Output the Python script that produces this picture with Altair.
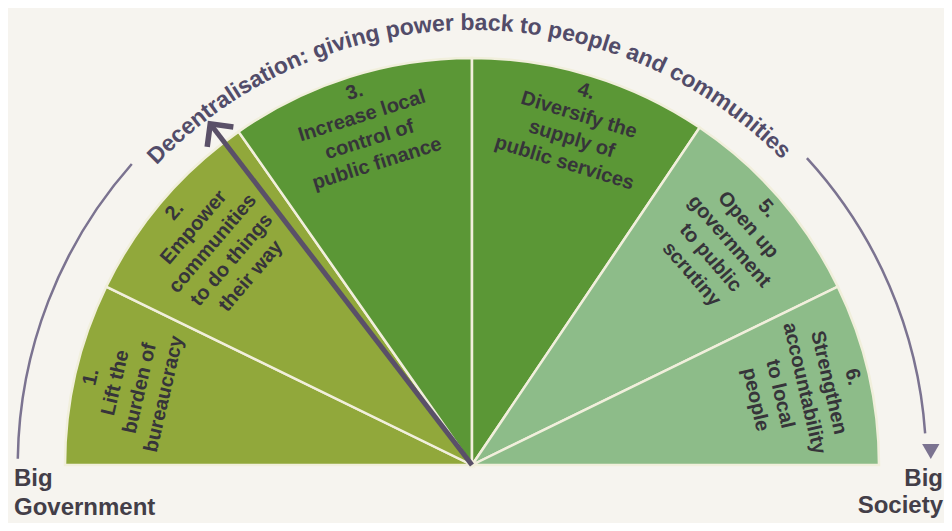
import math
import pandas as pd
import altair as alt

# ---------------- data ----------------
step_labels = [
    "1.\nLift the\nburden of\nbureaucracy",
    "2.\nEmpower\ncommunities\nto do things\ntheir way",
    "3.\nIncrease local\ncontrol of\npublic finance",
    "4.\nDiversify the\nsupply of\npublic services",
    "5.\nOpen up\ngovernment\nto public\nscrutiny",
    "6.\nStrengthen\naccountability\nto local\npeople",
]
step_spans = [26, 29, 35, 34, 30, 26]          # degrees of the half circle
step_groups = ["early", "early", "middle", "middle", "late", "late"]
group_names = ["early", "middle", "late"]
group_colors = ["#91a83b", "#5b9736", "#8dbc89"]
pointer_position = [52.5]                       # degrees from the "Big Government" end
title_text = "Decentralisation: giving power back to people and communities"
end_labels = ["Big\nGovernment", "Big\nSociety"]
guide_from = [0.8, 137.5]                       # outer guide arcs (degrees)
guide_to = [41.5, 176.0]

# ---------------- layout helpers ----------------
FONT = "Liberation Sans, Arial, Helvetica, sans-serif"
# Helvetica/Arial Bold advance widths (per 1000 em)
HB = {' ': 278, ':': 333, 'D': 722, 'a': 556, 'b': 611, 'c': 556, 'd': 611,
      'e': 556, 'g': 611, 'i': 278, 'k': 556, 'l': 278, 'm': 889, 'n': 611,
      'o': 611, 'p': 611, 'r': 389, 's': 556, 't': 333, 'u': 611, 'v': 556,
      'w': 778}
TITLE_FS = 23
TITLE_R = 435
widths = [HB.get(c, 556) * TITLE_FS / 1000 for c in title_text]
span_deg = math.degrees(sum(widths) / TITLE_R)
start_deg = 89.5 - span_deg / 2
rows = []
acc = 0.0
for ch, w in zip(title_text, widths):
    if ch != " ":
        rows.append({"ch": ch, "phi": start_deg + math.degrees((acc + w / 2) / TITLE_R)})
    acc += w
title_df = pd.DataFrame(rows)

wedge_df = pd.DataFrame({"idx": list(range(len(step_spans))), "span": step_spans,
                         "group": step_groups, "label": step_labels})
guide_df = pd.DataFrame({"a0": guide_from, "a1": guide_to})
tip_df = pd.DataFrame({"phi": [guide_to[1]]})
ptr_df = pd.DataFrame({"phi": pointer_position})
ends_df = pd.DataFrame({"t": end_labels})

# ---------------- scales ----------------
xs = alt.Scale(domain=[-464, 472], nice=False, zero=False)
ys = alt.Scale(domain=[-58, 457], nice=False, zero=False)
ts = alt.Scale(domain=[0, 180], range=[-math.pi / 2, math.pi / 2])
cx = alt.X("ox:Q", scale=xs, axis=None)
cy = alt.Y("oy:Q", scale=ys, axis=None)

ARC_COL = "#7b7390"
PTR_COL = "#5a5068"

base = alt.Chart(wedge_df).transform_window(
    end="sum(span)", sort=[alt.SortField("idx")], frame=[None, 0]
).transform_calculate(
    start="datum.end - datum.span",
    mid="datum.end - datum.span / 2",
    rot="(datum.end - datum.span / 2 + 270) % 360",
    ox="0", oy="0",
)

wedges = base.mark_arc(outerRadius=407, innerRadius=0, stroke="#f1efdc", strokeWidth=2.5).encode(
    x=cx, y=cy,
    theta=alt.Theta("start:Q", scale=ts, stack=False),
    theta2="end:Q",
    color=alt.Color("group:N", scale=alt.Scale(domain=group_names, range=group_colors), legend=None),
)

labels = base.mark_text(
    radius=401, align="center", baseline="top", lineBreak="\n", font=FONT,
    fontSize=20, fontWeight="bold", lineHeight=25, color="#36343a",
).encode(
    x=cx, y=cy,
    theta=alt.Theta("mid:Q", scale=ts, stack=False),
    angle=alt.Angle("rot:Q", scale=None),
    text="label:N",
)

guides = alt.Chart(guide_df).transform_calculate(ox="0", oy="0").mark_arc(
    innerRadius=453, outerRadius=455.5, color=ARC_COL
).encode(
    x=cx, y=cy,
    theta=alt.Theta("a0:Q", scale=ts, stack=False),
    theta2="a1:Q",
)

guide_tip = alt.Chart(tip_df).transform_calculate(
    px="-cos((datum.phi + 2.3) * PI / 180) * 459",
    py="sin((datum.phi + 2.3) * PI / 180) * 459",
).mark_point(shape="triangle-down", filled=True, size=300, color=ARC_COL, opacity=1).encode(
    x=alt.X("px:Q", scale=xs, axis=None),
    y=alt.Y("py:Q", scale=ys, axis=None),
)

ptr = alt.Chart(ptr_df).transform_calculate(
    ox="0", oy="0",
    px="-cos(datum.phi * PI / 180) * 427",
    py="sin(datum.phi * PI / 180) * 427",
    hx="-cos(datum.phi * PI / 180) * 430",
    hy="sin(datum.phi * PI / 180) * 430",
    rot="(datum.phi + 270) % 360",
)
shaft = ptr.mark_rule(strokeWidth=5, color=PTR_COL).encode(
    x=cx, y=cy, x2=alt.X2("px:Q"), y2=alt.Y2("py:Q"),
)
head = ptr.mark_point(
    shape="M-0.8,0.8L0,0L0.8,0.8", filled=False, strokeWidth=5.5, size=1700,
    color=PTR_COL, opacity=1, strokeJoin="miter",
).encode(
    x=alt.X("hx:Q", scale=xs, axis=None),
    y=alt.Y("hy:Q", scale=ys, axis=None),
    angle=alt.Angle("rot:Q", scale=None),
)

title_chars = alt.Chart(title_df).transform_calculate(
    rot="(datum.phi + 270) % 360", ox="0", oy="0",
).mark_text(
    radius=TITLE_R, align="center", baseline="alphabetic", font=FONT,
    fontSize=TITLE_FS, fontWeight="bold", color="#524c69",
).encode(
    x=cx, y=cy,
    theta=alt.Theta("phi:Q", scale=ts, stack=False),
    angle=alt.Angle("rot:Q", scale=None),
    text="ch:N",
)

end_left = alt.Chart(ends_df).transform_filter(
    alt.datum.t == end_labels[0]
).transform_calculate(lx="-458", ly="-21").mark_text(
    align="left", baseline="alphabetic", lineBreak="\n", font=FONT, fontSize=24,
    fontWeight="bold", lineHeight=29, color="#433e48",
).encode(
    x=alt.X("lx:Q", scale=xs, axis=None),
    y=alt.Y("ly:Q", scale=ys, axis=None),
    text="t:N",
)
end_right = alt.Chart(ends_df).transform_filter(
    alt.datum.t == end_labels[1]
).transform_calculate(lx="471", ly="-21").mark_text(
    align="right", baseline="alphabetic", lineBreak="\n", font=FONT, fontSize=24,
    fontWeight="bold", lineHeight=27, color="#433e48",
).encode(
    x=alt.X("lx:Q", scale=xs, axis=None),
    y=alt.Y("ly:Q", scale=ys, axis=None),
    text="t:N",
)

chart = alt.layer(
    wedges, guides, guide_tip, labels, shaft, head, title_chars, end_left, end_right
).properties(
    width=936, height=515, autosize="none", padding=0, background="#f6f4ef",
).configure_view(strokeWidth=0)

chart.save("out.html", embed_options={"renderer": "svg", "actions": False})
